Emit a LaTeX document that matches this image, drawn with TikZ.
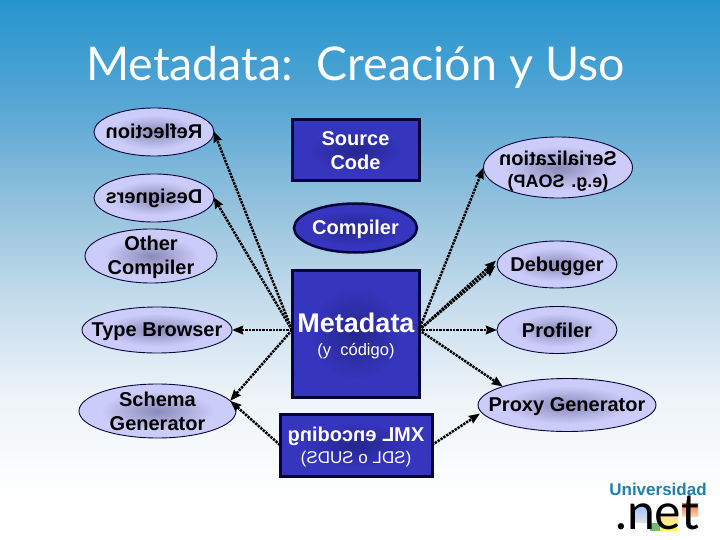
\documentclass[tikz,border=0pt]{standalone}
\usepackage{fontspec}
\usepackage{graphicx}
\setmainfont{Liberation Sans}
\newfontfamily\titlefont{Lato}
\usetikzlibrary{shapes.geometric,arrows.meta}
\definecolor{bgA}{HTML}{2595CD}
\definecolor{bgB}{HTML}{55A5D5}
\definecolor{bgC}{HTML}{90C0DC}
\definecolor{bgD}{HTML}{C5DCEC}
\definecolor{bgE}{HTML}{EEF4F9}
\definecolor{ellD}{HTML}{8A8AB8}
\definecolor{ellL}{HTML}{CCCCFA}
\definecolor{boxD}{HTML}{26268E}
\definecolor{boxL}{HTML}{3535BE}
\definecolor{navy}{HTML}{05053A}
\definecolor{uniblue}{HTML}{1F7FB0}
\pgfdeclareverticalshading{bgv}{100bp}{color(0bp)=(white); color(28.7bp)=(white); color(38bp)=(bgE); color(47.2bp)=(bgD); color(56.5bp)=(bgC); color(65.7bp)=(bgB); color(75bp)=(bgA); color(100bp)=(bgA)}
\pgfdeclareradialshading{ellshade}{\pgfpointorigin}{color(0bp)=(ellD); color(18bp)=(ellL); color(50bp)=(ellL)}
\pgfdeclareradialshading{boxshade}{\pgfpointorigin}{color(0bp)=(boxD); color(18bp)=(boxL); color(50bp)=(boxL)}
\newcommand{\mirtext}[1]{\reflectbox{\begin{tabular}{@{}c@{}}#1\end{tabular}}}
\tikzset{
  x=1pt,y=-1pt,
  lightell/.style={ellipse,draw=navy,line width=0.9pt,shading=ellshade,inner sep=0pt,outer sep=0pt},
  darkell/.style={ellipse,draw=navy,line width=2.5pt,shading=boxshade,inner sep=0pt,outer sep=0pt},
  darkbox/.style={rectangle,draw=navy,line width=3pt,shading=boxshade,inner sep=0pt,outer sep=0pt},
  blacktxt/.style={text=black,font=\bfseries\fontsize{20}{24}\selectfont,align=center,inner sep=0pt},
  whitetxt/.style={text=white,font=\bfseries\fontsize{20}{24}\selectfont,align=center,inner sep=0pt},
  conn/.style={draw=black,line width=2.5pt,dash pattern=on 2.4pt off 1pt,-{Stealth[length=11pt,width=8.5pt,inset=1pt]}}
}
\begin{document}
\begin{tikzpicture}
\useasboundingbox (0,0) rectangle (720,540);
\shade[shading=bgv] (0,0) rectangle (720,540);
\node[text=white,font=\titlefont\fontsize{46.5}{50}\selectfont,anchor=base west,inner sep=0pt] (title) at (86,81) {Metadata:\ \ Creación y Uso};
% left ellipses
\node[lightell,minimum width=120pt,minimum height=48pt] (refl) at (154,132) {};
\node[lightell,minimum width=120pt,minimum height=48pt] (desi) at (154,198) {};
\node[lightell,minimum width=132pt,minimum height=54pt] (othe) at (151,256) {};
\node[lightell,minimum width=150pt,minimum height=46pt] (type) at (157,330) {};
\node[lightell,minimum width=157pt,minimum height=54pt] (sche) at (157.5,411) {};
% right ellipses
\node[lightell,minimum width=149pt,minimum height=61pt] (seri) at (558,167.5) {};
\node[lightell,minimum width=120pt,minimum height=47pt] (debu) at (557,264.5) {};
\node[lightell,minimum width=120pt,minimum height=47pt] (prof) at (557,330) {};
\node[lightell,minimum width=178pt,minimum height=53pt] (prox) at (567,405) {};
% centre
\node[darkbox,minimum width=127pt,minimum height=61pt] (sour) at (355.5,150.5) {};
\node[darkell,minimum width=123pt,minimum height=49pt] (comp) at (355.5,228) {};
\node[darkbox,minimum width=127pt,minimum height=127pt] (meta) at (355.5,333.5) {};
\node[darkbox,minimum width=152pt,minimum height=62pt] (xmle) at (356,445) {};
% connectors
\draw[conn,shorten >=-1pt] (meta.west |- prof) -- (refl.east);
\draw[conn,shorten >=-1pt] (meta.west |- prof) -- (desi.east);
\draw[conn] (meta.west |- prof) -- (type.east);
\draw[conn] (meta.west |- prof) -- (sche.8);
\draw[conn] (xmle.west) -- (sche.8);
\draw[conn] (meta.east |- prof) -- (seri.west);
\draw[conn,shorten >=6pt] (meta.east |- prof) -- (debu.172);
\draw[conn,shorten >=2pt] (meta.east |- prof) -- (debu.west);
\draw[conn] (meta.east |- prof) -- (prof.west);
\draw[conn] (meta.east |- prof) -- (prox.164);
\draw[conn,shorten >=2pt] (xmle.east) -- (prox.185);
% labels
\node[blacktxt] (l1) at (154,133.5) {\mirtext{Reflection}};
\node[blacktxt] (l2) at (154,199) {\mirtext{Designers}};
\node[blacktxt] (l3) at (151,257.5) {Other\\Compiler};
\node[blacktxt] (l4) at (157,331.5) {Type Browser};
\node[blacktxt] (l5) at (sche) {Schema\\Generator};
\node[blacktxt] (l6) at (558,172) {\mirtext{Serialization\\[-2pt]{\fontsize{18}{24}\selectfont (e.g. SOAP)}}};
\node[blacktxt] (l7) at (557,266) {Debugger};
\node[blacktxt] (l8) at (prof) {Profiler};
\node[blacktxt] (l9) at (567,407) {Proxy Generator};
\node[whitetxt] (l10) at (sour) {Source\\Code};
\node[whitetxt] (l11) at (355.5,229) {Compiler};
\node[whitetxt,font=\bfseries\fontsize{27}{30}\selectfont] (l12) at (356,323) {Metadata};
\node[whitetxt,font=\fontsize{16.5}{20}\selectfont] (l13) at (356,351) {(y\ \ código)};
\node[whitetxt] (l14) at (356,447.5) {\mirtext{XML encoding\\[-2pt]{\mdseries\fontsize{17}{24}\selectfont (SDL o SUDS)}}};
% logo
\shade[top color=cyan!35!blue!35!white,bottom color=gray!25] (633,507) rectangle (650,522);
\fill[green!50!black!55!white] (650,523) rectangle (660,531);
\shade[top color=orange!30!white,bottom color=yellow!70!white] (660,514) rectangle (678,530);
\shade[top color=red!60!orange!70!white,bottom color=orange!35!white] (682,503) rectangle (698,516);
\node[text=uniblue,font=\bfseries\fontsize{17}{20}\selectfont,inner sep=0pt] (uni) at (658,489.5) {Universidad};
\node[text=black,font=\titlefont\fontsize{50}{50}\selectfont,anchor=base west,inner sep=0pt] (net) at (615,529) {.net};
\end{tikzpicture}
\end{document}
